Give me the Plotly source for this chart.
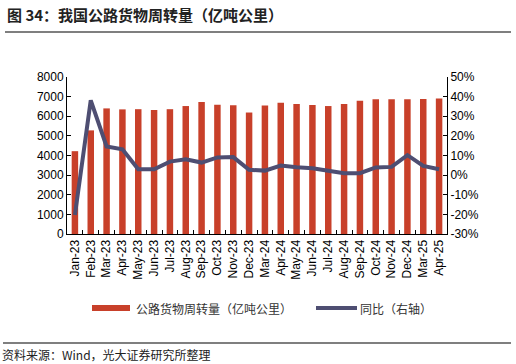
import plotly.graph_objects as go

categories = ["Jan-23", "Feb-23", "Mar-23", "Apr-23", "May-23", "Jun-23", "Jul-23", "Aug-23",
              "Sep-23", "Oct-23", "Nov-23", "Dec-23", "Mar-24", "Apr-24", "May-24", "Jun-24",
              "Jul-24", "Aug-24", "Sep-24", "Oct-24", "Nov-24", "Dec-24", "Mar-25", "Apr-25"]
turnover = [4220, 5280, 6400, 6350, 6360, 6320, 6360, 6520, 6720, 6580, 6560, 6190,
            6550, 6690, 6620, 6570, 6520, 6620, 6790, 6860, 6860, 6860, 6880, 6900]
yoy = [-20.3, 38.1, 14.6, 13.2, 3.0, 3.0, 6.9, 8.1, 6.4, 9.0, 9.2, 2.7,
       2.3, 4.9, 4.0, 3.5, 2.2, 1.0, 1.0, 3.9, 4.2, 10.2, 4.7, 3.0]
left_ticks = [0, 1000, 2000, 3000, 4000, 5000, 6000, 7000, 8000]
right_ticks = [-30, -20, -10, 0, 10, 20, 30, 40, 50]

BAR = "#C8402A"
LINE = "#4E4E72"
FONT = "Liberation Sans, Arial, sans-serif"
CJK = "Noto Sans CJK SC"

W, H = 516, 364
ML, MR, MT, MB = 67, W - 447, 77, H - 234

fig = go.Figure()
fig.add_trace(go.Bar(x=categories, y=turnover, marker=dict(color=BAR, line=dict(width=0)),
                     name="公路货物周转量（亿吨公里）", showlegend=False))
fig.add_trace(go.Scatter(x=categories, y=yoy, yaxis="y2", mode="lines",
                         line=dict(color=LINE, width=4), name="同比（右轴）", showlegend=False))

fig.update_layout(
    width=W, height=H,
    margin=dict(l=ML, r=MR, t=MT, b=MB, pad=0),
    paper_bgcolor="white", plot_bgcolor="white",
    bargap=0.59,
    font=dict(family=FONT, size=12, color="#000"),
    xaxis=dict(type="category", tickangle=-90, showline=True, linecolor="#000", linewidth=1,
               ticks="inside", tickson="boundaries", ticklen=4, tickcolor="#000",
               tickfont=dict(size=12, family=FONT), showgrid=False),
    yaxis=dict(range=[0, 8000], tickvals=left_ticks, showline=True, linecolor="#000", linewidth=1,
               ticks="inside", ticklen=4, tickcolor="#000", showgrid=False, zeroline=False,
               tickfont=dict(size=12, family=FONT)),
    yaxis2=dict(range=[-30, 50], tickvals=right_ticks, ticktext=[f"{v}%" for v in right_ticks],
                overlaying="y", side="right", showline=True, linecolor="#000", linewidth=1,
                ticks="inside", ticklen=4, tickcolor="#000", showgrid=False, zeroline=False,
                tickfont=dict(size=12, family=FONT)),
)

plot_w = W - ML - MR
plot_h = H - MT - MB


def px(x):
    return (x - ML) / plot_w


def py(y):
    return (H - MB - y) / plot_h


fig.update_layout(shapes=[
    dict(type="line", xref="paper", yref="paper", x0=px(5), x1=px(511), y0=py(32), y1=py(32),
         line=dict(color="#555", width=1.5)),
    dict(type="line", xref="paper", yref="paper", x0=px(3), x1=px(511), y0=py(343), y1=py(343),
         line=dict(color="#555", width=1.5)),
    dict(type="rect", xref="paper", yref="paper", x0=px(92), x1=px(130), y0=py(311), y1=py(305),
         fillcolor=BAR, line=dict(width=0)),
    dict(type="line", xref="paper", yref="paper", x0=px(316), x1=px(357), y0=py(308), y1=py(308),
         line=dict(color=LINE, width=4)),
])

fig.add_annotation(text="<b>图 34：我国公路货物周转量（亿吨公里）</b>", xref="paper", yref="paper",
                   x=px(5), y=py(14), xanchor="left", yanchor="middle", showarrow=False,
                   font=dict(family=CJK, size=15, color="#222"))
fig.add_annotation(text="公路货物周转量（亿吨公里）", xref="paper", yref="paper",
                   x=px(134), y=py(308), xanchor="left", yanchor="middle", showarrow=False,
                   font=dict(family=CJK, size=12, color="#333"))
fig.add_annotation(text="同比（右轴）", xref="paper", yref="paper",
                   x=px(358), y=py(308), xanchor="left", yanchor="middle", showarrow=False,
                   font=dict(family=CJK, size=12, color="#333"))
fig.add_annotation(text="资料来源：Wind，光大证券研究所整理", xref="paper", yref="paper",
                   x=px(0), y=py(354), xanchor="left", yanchor="middle", showarrow=False,
                   font=dict(family=CJK, size=12, color="#222"))

fig.write_html("out.html",
               config={"displayModeBar": False, "staticPlot": True},
               post_script="document.documentElement.style.margin='0';"
                           "document.body.style.margin='0';"
                           "document.body.style.overflow='hidden';")
